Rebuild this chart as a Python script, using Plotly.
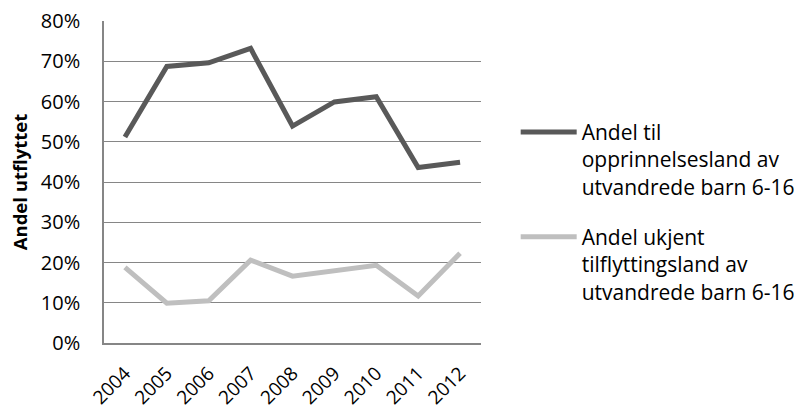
import plotly.graph_objects as go

years = ["2004", "2005", "2006", "2007", "2008", "2009", "2010", "2011", "2012"]
andel_opprinnelsesland = [0.512, 0.687, 0.696, 0.732, 0.539, 0.599, 0.612, 0.436, 0.449]
andel_ukjent = [0.188, 0.099, 0.105, 0.206, 0.166, 0.180, 0.193, 0.117, 0.223]
name1 = "Andel til<br>opprinnelsesland av<br>utvandrede barn 6-16"
name2 = "Andel ukjent<br>tilflyttingsland av<br>utvandrede barn 6-16"

font = "Open Sans, Noto Sans, sans-serif"

fig = go.Figure()
fig.add_trace(go.Scatter(x=years, y=andel_opprinnelsesland, mode="lines", name=name1,
                         legendgroup="g1",
                         line=dict(color="#595959", width=5)))
fig.add_trace(go.Scatter(x=years, y=andel_ukjent, mode="lines", name=name2,
                         legendgroup="g2",
                         line=dict(color="#BFBFBF", width=5)))

fig.update_layout(
    width=794, height=409,
    margin=dict(l=104, r=313, t=21, b=66, autoexpand=False),
    paper_bgcolor="white", plot_bgcolor="white",
    font=dict(family=font, size=20, color="black"),
    showlegend=True,
    legend=dict(x=1.092, y=0.718, xanchor="left", yanchor="top", valign="top",
                font=dict(size=21), tracegroupgap=20, itemwidth=56),
    xaxis=dict(type="category", range=[-0.5, 8.5], tickangle=-45, automargin=False,
               showline=True, linecolor="#868686", linewidth=1.5,
               showgrid=False, ticks="", tickfont=dict(size=19), ticklabelstandoff=10),
    yaxis=dict(range=[0, 0.8], dtick=0.1, tickformat=".0%", automargin=False,
               showgrid=True, gridcolor="#868686", gridwidth=1,
               showline=True, linecolor="#868686", linewidth=1.5,
               zeroline=False, ticks="", tickfont=dict(size=20), ticklabelstandoff=18,
               title=dict(text="<b>Andel utflyttet</b>", font=dict(size=18.5), standoff=8)),
)

fig.write_html("out.html", config={"displayModeBar": False},
               post_script="document.body.style.margin='0px';")
